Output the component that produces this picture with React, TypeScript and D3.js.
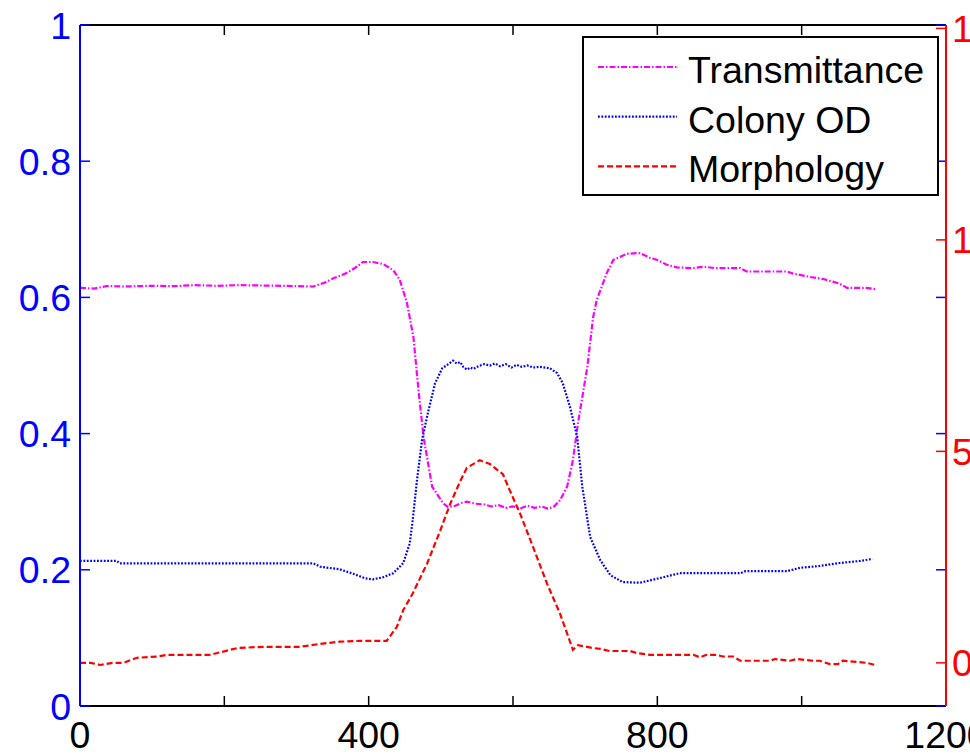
import React from "react";
import * as d3 from "d3";

const transmittance: [number, number][] = [
  [0, 0.614], [20, 0.613], [37, 0.6167], [60, 0.616], [100, 0.617], [130, 0.6165], [160, 0.618],
  [190, 0.617], [220, 0.618], [250, 0.6175], [280, 0.617], [300, 0.6165], [323, 0.616], [340, 0.622],
  [351, 0.628], [370, 0.636], [385, 0.646], [392, 0.652], [406, 0.652], [420, 0.649], [434, 0.64],
  [443, 0.626], [453, 0.592], [462, 0.542], [469, 0.464], [476, 0.395], [488, 0.322], [503, 0.298],
  [510, 0.292], [520, 0.294], [528, 0.298], [536, 0.3], [548, 0.297], [560, 0.296], [570, 0.293],
  [580, 0.295], [590, 0.291], [600, 0.293], [610, 0.29], [620, 0.294], [630, 0.291], [640, 0.293],
  [648, 0.29], [656, 0.292], [665, 0.302], [675, 0.322], [683, 0.361], [690, 0.415], [703, 0.498],
  [711, 0.571], [716, 0.596], [730, 0.636], [739, 0.655], [758, 0.664], [772, 0.665], [776, 0.665],
  [790, 0.658], [800, 0.655], [813, 0.648], [827, 0.644], [850, 0.643], [865, 0.645], [880, 0.643],
  [915, 0.643], [924, 0.638], [950, 0.638], [980, 0.638], [988, 0.635], [1012, 0.63], [1030, 0.627],
  [1053, 0.62], [1063, 0.614], [1090, 0.614], [1102, 0.612],
];

const colonyOD: [number, number][] = [
  [0, 0.213], [20, 0.213], [51, 0.213], [55, 0.2095], [100, 0.2095], [200, 0.2095], [300, 0.2095],
  [323, 0.2095], [333, 0.2045], [360, 0.2007], [379, 0.194], [395, 0.1875], [406, 0.186], [420, 0.189],
  [434, 0.195], [443, 0.2045], [448, 0.21], [457, 0.239], [461, 0.273], [467, 0.332], [474, 0.391],
  [482, 0.43], [492, 0.474], [502, 0.496], [513, 0.504], [517, 0.507], [522, 0.503], [527, 0.505],
  [531, 0.498], [536, 0.494], [541, 0.497], [545, 0.495], [552, 0.499], [560, 0.502], [568, 0.5],
  [575, 0.503], [582, 0.499], [590, 0.502], [598, 0.497], [605, 0.501], [612, 0.498], [620, 0.5],
  [628, 0.497], [637, 0.498], [651, 0.496], [661, 0.489], [669, 0.474], [679, 0.439], [689, 0.395],
  [696, 0.322], [707, 0.248], [721, 0.214], [735, 0.192], [752, 0.182], [776, 0.181], [804, 0.188],
  [831, 0.195], [859, 0.195], [915, 0.195], [922, 0.198], [980, 0.198], [998, 0.203], [1025, 0.2056],
  [1053, 0.21], [1081, 0.213], [1098, 0.216],
];

const morphology: [number, number][] = [
  [0, 0], [15, 0], [28, -0.05], [45, 0], [60, 0], [79, 0.12], [107, 0.15], [121, 0.19], [180, 0.19],
  [204, 0.29], [218, 0.35], [254, 0.38], [305, 0.38], [333, 0.45], [360, 0.5], [388, 0.52], [425, 0.52],
  [439, 0.85], [448, 1.25], [461, 1.64], [481, 2.35], [499, 3.12], [513, 3.76], [527, 4.3], [536, 4.61],
  [554, 4.79], [568, 4.7], [586, 4.46], [596, 4.06], [610, 3.52], [628, 2.73], [647, 1.88], [665, 1.17],
  [683, 0.31], [690, 0.42], [711, 0.35], [721, 0.33], [734, 0.28], [762, 0.28], [772, 0.23], [790, 0.19],
  [850, 0.19], [859, 0.13], [868, 0.19], [882, 0.19], [891, 0.15], [905, 0.15], [915, 0.05], [956, 0.05],
  [963, 0.09], [984, 0.05], [993, 0.09], [1016, 0.05], [1025, 0.05], [1039, -0.03], [1050, -0.03],
  [1057, 0.05], [1077, 0.02], [1090, 0], [1102, -0.05],
];

const xTicks = [0, 200, 400, 600, 800, 1000, 1200];
const xLabels = [0, 400, 800, 1200];
const leftTicks = [0, 0.2, 0.4, 0.6, 0.8, 1];
const rightTicks = [0, 5, 10, 15];
const legendNames = ["Transmittance", "Colony OD", "Morphology"];

const W = 970, H = 755;
const L = 80, R = 946, T = 25, B = 706;
const FONT = "'Liberation Sans', Arial, sans-serif";
const FS = 37.5;

export default function App() {
  const x = d3.scaleLinear().domain([0, 1200]).range([L, R]);
  const yL = d3.scaleLinear().domain([0, 1]).range([B, T]);
  const yR = d3.scaleLinear().domain([-1.02, 15.08]).range([B, T]);

  const lineL = d3.line<[number, number]>().x(d => x(d[0])).y(d => yL(d[1]));
  const lineR = d3.line<[number, number]>().x(d => x(d[0])).y(d => yR(d[1]));

  const styles = [
    { color: "#ff00ff", dash: "6,2,1.5,2", w: 2.2 },
    { color: "#0000ff", dash: "1.8,1.6", w: 2.2 },
    { color: "#ff0000", dash: "6,3", w: 2.2 },
  ];

  const tickLen = 10;
  const fmtL = (v: number) => (v === 0 ? "0" : v === 1 ? "1" : String(v));

  return (
    <svg width={W} height={H} style={{ position: "absolute", left: 0, top: 0, background: "#fff" }}
      fontFamily={FONT}>
      <rect x={0} y={0} width={W} height={H} fill="#fff" />
      {/* data lines */}
      <path d={lineL(transmittance) || ""} fill="none" stroke={styles[0].color}
        strokeWidth={styles[0].w} strokeDasharray={styles[0].dash} />
      <path d={lineL(colonyOD) || ""} fill="none" stroke={styles[1].color}
        strokeWidth={styles[1].w} strokeDasharray={styles[1].dash} />
      <path d={lineR(morphology) || ""} fill="none" stroke={styles[2].color}
        strokeWidth={styles[2].w} strokeDasharray={styles[2].dash} />

      {/* top and bottom axes */}
      <line x1={L} x2={R} y1={T} y2={T} stroke="#000" strokeWidth={2} />
      <line x1={L} x2={R} y1={B} y2={B} stroke="#000" strokeWidth={2} />
      {xTicks.map(t => (
        <g key={"xt" + t}>
          <line x1={x(t)} x2={x(t)} y1={B} y2={B - tickLen} stroke="#000" strokeWidth={1.5} />
          <line x1={x(t)} x2={x(t)} y1={T} y2={T + tickLen} stroke="#000" strokeWidth={1.5} />
        </g>
      ))}
      {xLabels.map(t => (
        <text key={"xl" + t} x={x(t)} y={748} textAnchor="middle" fontSize={FS} fill="#000">{t}</text>
      ))}

      {/* left axis (blue) */}
      {leftTicks.map(t => (
        <g key={"lt" + t}>
          <line x1={L} x2={L + tickLen} y1={yL(t)} y2={yL(t)} stroke="#0000ff" strokeWidth={1.5} />
          <line x1={R} x2={R - tickLen} y1={yL(t)} y2={yL(t)} stroke="#0000ff" strokeWidth={1.5} />
          <text x={71} y={yL(t)} dy="0.36em" textAnchor="end" fontSize={FS} fill="#0000ff">{fmtL(t)}</text>
        </g>
      ))}
      <line x1={L} x2={L} y1={T} y2={B} stroke="#0000ff" strokeWidth={2} />

      {/* right axis (red) */}
      {rightTicks.map(t => (
        <g key={"rt" + t}>
          <line x1={R} x2={R - tickLen} y1={yR(t)} y2={yR(t)} stroke="#ff0000" strokeWidth={1.5} />
          <text x={952} y={yR(t)} dy="0.36em" textAnchor="start" fontSize={FS} fill="#ff0000">{t}</text>
        </g>
      ))}
      <line x1={R} x2={R} y1={T} y2={B} stroke="#ff0000" strokeWidth={2} />

      {/* legend */}
      <rect x={583} y={37} width={355} height={158} fill="#fff" stroke="#000" strokeWidth={2} />
      {legendNames.map((name, i) => {
        const ly = 67 + i * 49.7;
        return (
          <g key={name}>
            <line x1={598} x2={677} y1={ly} y2={ly} stroke={styles[i].color}
              strokeWidth={styles[i].w} strokeDasharray={styles[i].dash} />
            <text x={688} y={ly + 16} fontSize={FS} fill="#000">{name}</text>
          </g>
        );
      })}
    </svg>
  );
}
